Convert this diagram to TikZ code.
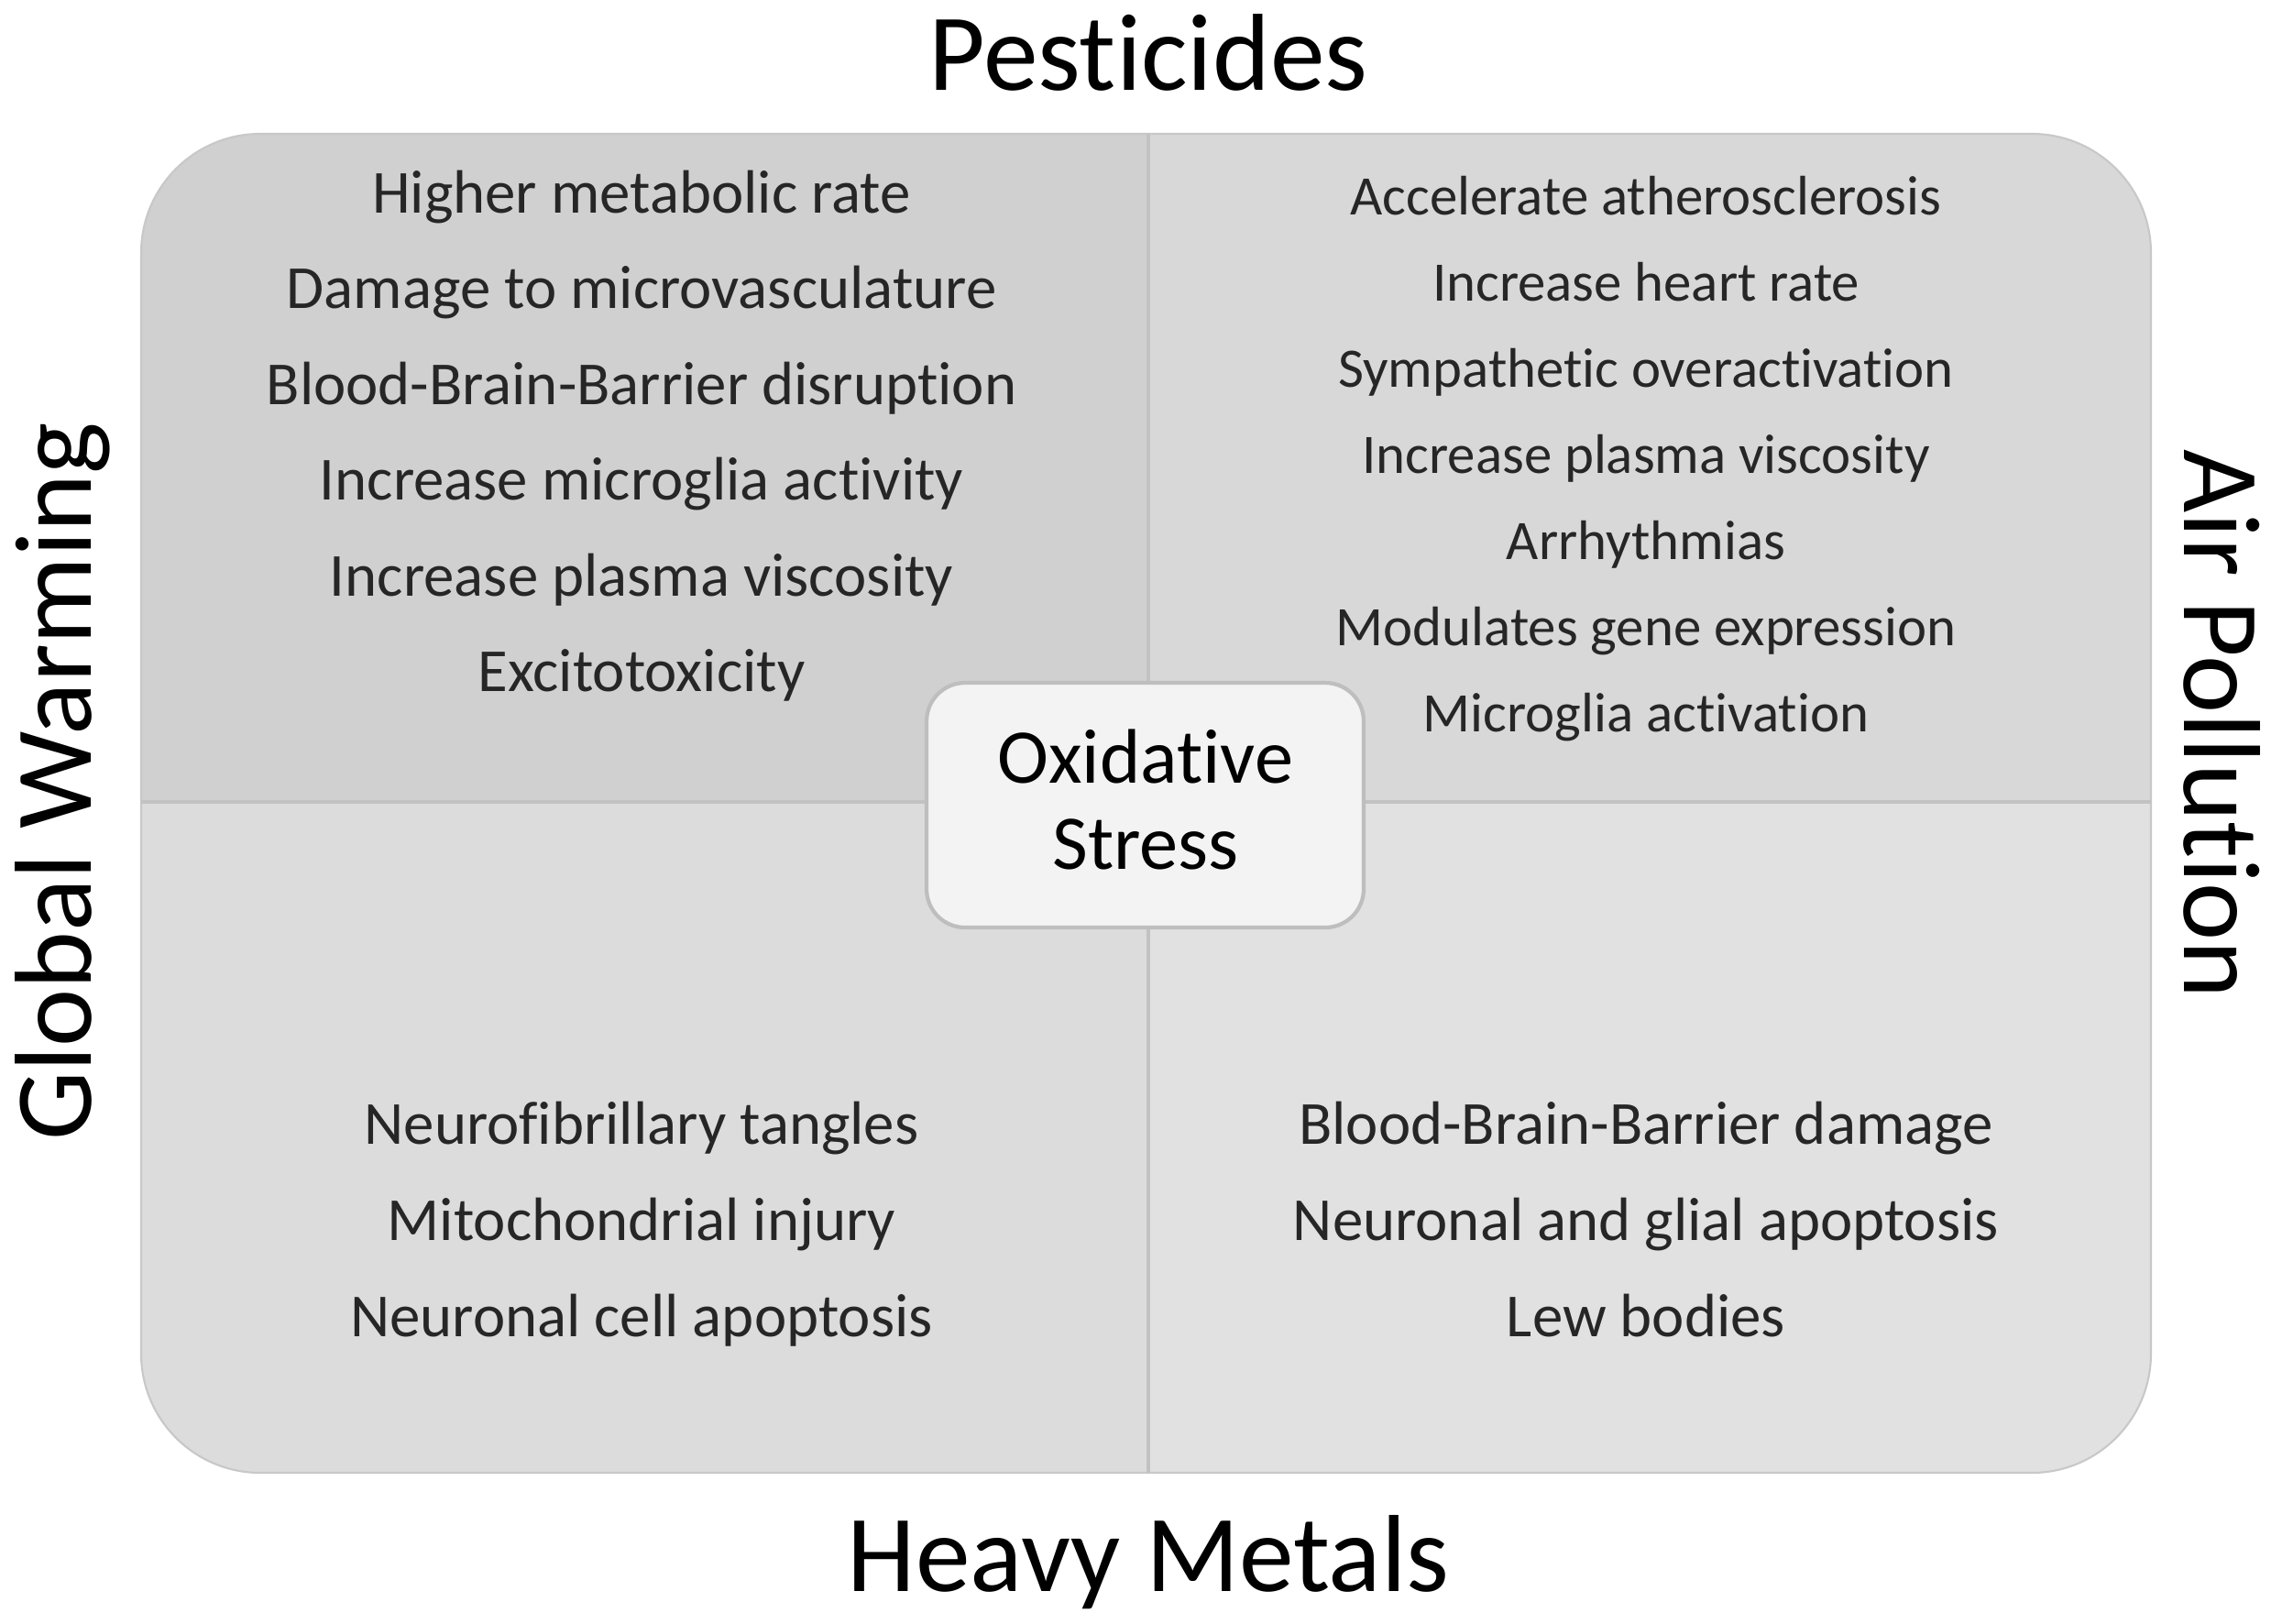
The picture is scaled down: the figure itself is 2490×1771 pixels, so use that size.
\documentclass[tikz,border=0pt]{standalone}
\usepackage{fontspec}
\setmainfont{Carlito}[Ligatures=NoCommon]
\definecolor{tlcol}{HTML}{D0D0D0}
\definecolor{trcol}{HTML}{D8D8D8}
\definecolor{blcol}{HTML}{DCDCDC}
\definecolor{brcol}{HTML}{E1E1E1}
\definecolor{divcol}{HTML}{C2C2C2}
\definecolor{edgecol}{HTML}{C8C8C8}
\definecolor{boxfill}{HTML}{F3F3F3}
\definecolor{boxedge}{HTML}{BEBEBE}
\definecolor{txt}{HTML}{262626}
\tikzset{
  title/.style={font=\fontsize{34}{40}\selectfont, anchor=base, text=black, inner sep=0pt},
  leftitem/.style={font=\fontsize{19}{23}\selectfont, anchor=base, text=txt, inner sep=0pt},
  rightitem/.style={font=\fontsize{17.3}{21}\selectfont, anchor=base, text=txt, inner sep=0pt},
  centerbox/.style={draw=boxedge, line width=1.2pt, fill=boxfill, rounded corners=0.42cm},
  centertext/.style={font=\fontsize{24}{28}\selectfont, anchor=base, text=black, inner sep=0pt},
  divider/.style={draw=divcol, line width=1.4pt}
}
\begin{document}
\begin{tikzpicture}[x=0.01cm, y=-0.01cm]
\useasboundingbox (0,0) rectangle (2490,1771);
\fill[white] (0,0) rectangle (2490,1771);
% quadrants
\begin{scope}
  \clip[rounded corners=1.3cm] (154,146) rectangle (2347,1607);
  \fill[tlcol] (154,146) rectangle (1253,875);
  \fill[trcol] (1253,146) rectangle (2347,875);
  \fill[blcol] (154,875) rectangle (1253,1607);
  \fill[brcol] (1253,875) rectangle (2347,1607);
\end{scope}
\draw[edgecol, line width=0.6pt, rounded corners=1.3cm] (154,146) rectangle (2347,1607);
\coordinate (vtop) at (1253,146);
\coordinate (vbot) at (1253,1607);
\coordinate (hleft) at (154,875);
\coordinate (hright) at (2347,875);
\draw[divider] (vtop) -- (vbot);
\draw[divider] (hleft) -- (hright);
% center box
\draw[centerbox] (1011,745) rectangle (1488,1012);
\node[centertext] (ox1) at (1250,854) {Oxidative};
\node[centertext] (ox2) at (1250,948) {Stress};
% titles
\node[title] (pest) at (1253,98) {Pesticides};
\node[title] (heavy) at (1253,1736) {Heavy Metals};
\node[title, rotate=90] (glob) at (100,853) {Global Warming};
\node[title, rotate=-90] (air) at (2383,790) {Air Pollution};
% top-left items
\foreach \t [count=\i] in {Higher metabolic rate, Damage to microvasculature, Blood-Brain-Barrier disruption, Increase microglia activity, Increase plasma viscosity, Excitotoxicity}
  \node[leftitem] (tl\i) at (700, {232+104.5*(\i-1)}) {\t};
% top-right items
\foreach \t [count=\i] in {Accelerate atherosclerosis, Increase heart rate, Sympathetic overactivation, Increase plasma viscosity, Arrhythmias, Modulates gene expression, Microglia activation}
  \node[rightitem] (tr\i) at (1796, {234+94*(\i-1)}) {\t};
% bottom-left items
\foreach \t [count=\i] in {Neurofibrillary tangles, Mitochondrial injury, Neuronal cell apoptosis}
  \node[leftitem] (bl\i) at (700, {1248+105*(\i-1)}) {\t};
% bottom-right items
\foreach \t [count=\i] in {Blood-Brain-Barrier damage, Neuronal and glial apoptosis, Lew bodies}
  \node[leftitem] (br\i) at (1796, {1248+105*(\i-1)}) {\t};
\end{tikzpicture}
\end{document}
